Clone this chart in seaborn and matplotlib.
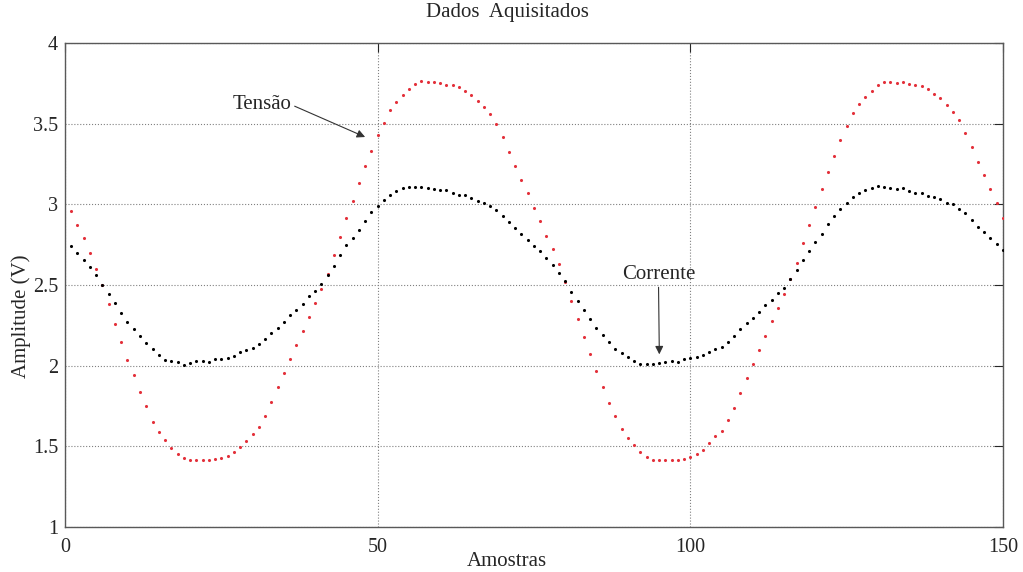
import numpy as np
import pandas as pd
import matplotlib
matplotlib.use('Agg')
import matplotlib.pyplot as plt
import seaborn as sns

# amostras 1..150
amostras = list(range(1, 151))

tensao = [2.96, 2.87, 2.79, 2.70, 2.60, 2.50, 2.38, 2.255, 2.145, 2.037,
          1.942, 1.835, 1.748, 1.653, 1.587, 1.537, 1.49, 1.455, 1.428, 1.415,
          1.414, 1.416, 1.418, 1.421, 1.43, 1.44, 1.463, 1.498, 1.535, 1.574,
          1.62, 1.69, 1.776, 1.869, 1.954, 2.044, 2.127, 2.215, 2.302, 2.39,
          2.475, 2.566, 2.687, 2.80, 2.914, 3.019, 3.134, 3.237, 3.333, 3.43,
          3.506, 3.582, 3.637, 3.68, 3.715, 3.748, 3.762, 3.757, 3.755, 3.754,
          3.741, 3.738, 3.728, 3.703, 3.676, 3.639, 3.60, 3.559, 3.50, 3.418,
          3.325, 3.238, 3.148, 3.068, 2.975, 2.897, 2.802, 2.72, 2.631, 2.52,
          2.40, 2.287, 2.178, 2.07, 1.967, 1.867, 1.771, 1.688, 1.607, 1.553,
          1.51, 1.466, 1.434, 1.413, 1.413, 1.413, 1.413, 1.417, 1.424, 1.434,
          1.45, 1.477, 1.523, 1.564, 1.595, 1.663, 1.736, 1.833, 1.921, 2.008,
          2.097, 2.184, 2.277, 2.355, 2.442, 2.54, 2.638, 2.758, 2.87, 2.986,
          3.095, 3.202, 3.30, 3.399, 3.486, 3.564, 3.622, 3.667, 3.705, 3.74,
          3.758, 3.758, 3.754, 3.758, 3.748, 3.742, 3.733, 3.715, 3.684, 3.657,
          3.616, 3.574, 3.521, 3.442, 3.355, 3.262, 3.18, 3.093, 3.006, 2.917]

corrente = [2.74, 2.70, 2.652, 2.612, 2.563, 2.50, 2.443, 2.386, 2.329, 2.273,
            2.229, 2.184, 2.138, 2.102, 2.067, 2.037, 2.027, 2.024, 2.007, 2.014,
            2.026, 2.026, 2.023, 2.039, 2.04, 2.05, 2.062, 2.087, 2.097, 2.111,
            2.132, 2.163, 2.202, 2.233, 2.268, 2.311, 2.342, 2.384, 2.43, 2.462,
            2.509, 2.564, 2.615, 2.683, 2.745, 2.79, 2.842, 2.897, 2.955, 2.992,
            3.025, 3.055, 3.08, 3.098, 3.107, 3.11, 3.11, 3.101, 3.092, 3.091,
            3.087, 3.07, 3.06, 3.06, 3.042, 3.022, 3.01, 2.987, 2.962, 2.927,
            2.889, 2.855, 2.813, 2.776, 2.743, 2.709, 2.67, 2.621, 2.576, 2.522,
            2.459, 2.40, 2.343, 2.289, 2.233, 2.19, 2.145, 2.103, 2.079, 2.052,
            2.029, 2.01, 2.01, 2.012, 2.017, 2.025, 2.029, 2.025, 2.041, 2.048,
            2.052, 2.066, 2.087, 2.101, 2.118, 2.147, 2.186, 2.225, 2.262, 2.293,
            2.333, 2.374, 2.405, 2.452, 2.483, 2.535, 2.593, 2.655, 2.713, 2.769,
            2.816, 2.878, 2.928, 2.969, 3.01, 3.048, 3.072, 3.089, 3.101, 3.114,
            3.105, 3.101, 3.093, 3.099, 3.085, 3.072, 3.068, 3.054, 3.043, 3.031,
            3.01, 3.0, 2.969, 2.944, 2.905, 2.862, 2.826, 2.793, 2.756, 2.715]

xticks = [0, 50, 100, 150]
yticks = [1, 1.5, 2, 2.5, 3, 3.5, 4]

sns.set_theme(style='white')
plt.rcParams['font.family'] = ['Liberation Serif', 'DejaVu Serif']

df = pd.DataFrame({'Amostras': amostras, 'Tensão': tensao, 'Corrente': corrente})

fig = plt.figure(figsize=(10.23, 5.72), dpi=100)
ax = fig.add_axes([0.0635, 0.0787, 0.9169, 0.8462])

sns.scatterplot(data=df, x='Amostras', y='Tensão', ax=ax, color='#e3303a',
                s=5, linewidth=0, zorder=3)
sns.scatterplot(data=df, x='Amostras', y='Corrente', ax=ax, color='black',
                s=5, linewidth=0, zorder=3)

ax.set_xlim(0, 150)
ax.set_ylim(1, 4)
ax.set_xticks(xticks)
ax.set_yticks(yticks)
ax.set_yticklabels(['1', '1.5', '2', '2.5', '3', '3.5', '4'])
ax.grid(True, linestyle=':', color='#808080', linewidth=0.8)
ax.tick_params(direction='in', length=6.5, width=0.8, top=True, right=True,
               labelsize=14.5, colors='0.15')
ax.tick_params(axis='x', pad=8)
ax.tick_params(axis='y', pad=5)
for sp in ax.spines.values():
    sp.set_color('0.35')
    sp.set_linewidth(1.0)

# titulo e rotulos ficam centrados um pouco fora do centro dos eixos, como no original
fig.text(507 / 1023, 1 - 13 / 572, 'Dados  Aquisitados', fontsize=15,
         ha='center', va='center')
fig.text(507 / 1023, 1 - 562 / 572, 'Amostras', fontsize=15,
         ha='center', va='center')
fig.text(21 / 1023, 1 - 316 / 572, 'Amplitude (V)', fontsize=15,
         ha='center', va='center', rotation=90)
ax.set_xlabel('')
ax.set_ylabel('')

ax.annotate('Tensão', xy=(48.0, 3.417), xytext=(31.5, 3.617), fontsize=15,
            ha='center', va='center',
            arrowprops=dict(arrowstyle='-|>', color='0.2', lw=0.8,
                            mutation_scale=12, shrinkA=0, shrinkB=0,
                            relpos=(1, 0.5)))
ax.annotate('Corrente', xy=(95.05, 2.07), xytext=(94.9, 2.565), fontsize=15,
            ha='center', va='center',
            arrowprops=dict(arrowstyle='-|>', color='0.2', lw=0.8,
                            mutation_scale=12, shrinkA=0, shrinkB=0))

fig.savefig('out.png', dpi=100, facecolor='white')
